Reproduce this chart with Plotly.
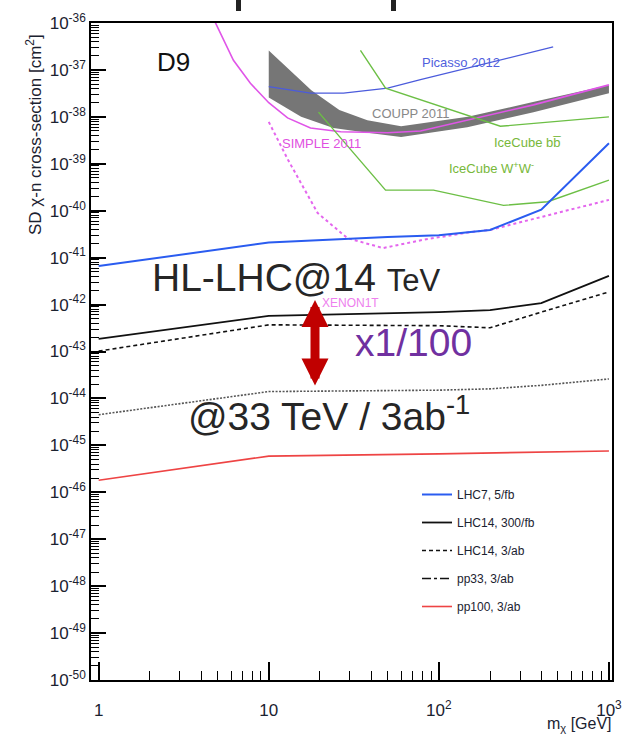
import plotly.graph_objects as go

# ---------------- data (m_chi in GeV, cross-section in cm^2) ----------------
lhc7_x = [1, 10, 50, 100, 200, 400, 1000]
lhc7_y = [6.6e-42, 2.1e-41, 2.75e-41, 3.0e-41, 3.9e-41, 1.05e-40, 2.75e-39]

lhc14_300_x = [1, 10, 100, 200, 400, 1000]
lhc14_300_y = [1.86e-43, 5.75e-43, 6.9e-43, 7.6e-43, 1.07e-42, 4.1e-42]

lhc14_3ab_x = [1, 10, 100, 200, 400, 1000]
lhc14_3ab_y = [1.02e-43, 3.7e-43, 3.55e-43, 3.2e-43, 6.9e-43, 1.86e-42]

pp33_x = [1, 10, 100, 200, 400, 1000]
pp33_y = [4.5e-45, 1.4e-44, 1.5e-44, 1.6e-44, 1.9e-44, 2.6e-44]

pp100_x = [1, 10, 100, 1000]
pp100_y = [1.8e-46, 5.9e-46, 6.6e-46, 7.6e-46]

picasso_x = [10, 17.6, 27.5, 50, 78, 148, 470]
picasso_y = [4.4e-38, 3.2e-38, 3.2e-38, 4.1e-38, 6.2e-38, 1.1e-37, 3.1e-37]

coupp_top_x = [10, 17.8, 26, 38, 60, 148, 363, 1000]
coupp_top_y = [2.6e-37, 3.7e-38, 1.4e-38, 8.5e-39, 6.3e-39, 1.0e-38, 2.1e-38, 4.8e-38]
coupp_bot_x = [10, 15.5, 24, 38, 60, 147, 360, 1000]
coupp_bot_y = [2.6e-38, 1.0e-38, 5.8e-39, 4.6e-39, 3.7e-39, 6.0e-39, 1.26e-38, 3.2e-38]

simple_x = [4.7, 6.2, 7.8, 10, 12.9, 17.6, 26.5, 50, 78, 147, 360, 1000]
simple_y = [1.3e-36, 1.6e-37, 5.2e-38, 2.0e-38, 9.5e-39, 5.8e-39, 4.8e-39, 4.6e-39,
            5.0e-39, 8.5e-39, 1.8e-38, 4.8e-38]

simple_proj_x = [10, 13, 19.4, 29, 47, 81, 153, 200, 1000]
simple_proj_y = [7.8e-39, 1.2e-39, 8.9e-41, 2.6e-41, 1.6e-41, 2.4e-41, 3.5e-41, 3.9e-41, 1.7e-40]

icecube_bb_x = [34.6, 48.6, 230, 1000]
icecube_bb_y = [2.6e-37, 4.1e-38, 6.3e-39, 1.0e-38]

icecube_ww_x = [19.6, 48.6, 93, 240, 436, 1000]
icecube_ww_y = [1.26e-38, 2.75e-40, 2.75e-40, 1.3e-40, 1.55e-40, 4.5e-40]

x_tick_vals = [1, 10, 100, 1000]
x_tick_text = ["1", "10", "10<sup>2</sup>", "10<sup>3</sup>"]
y_exponents = list(range(-50, -35))

FONT = "Liberation Sans, Arial, Helvetica, sans-serif"

fig = go.Figure()

# COUPP band
fig.add_trace(go.Scatter(
    x=coupp_top_x + coupp_bot_x[::-1], y=coupp_top_y + coupp_bot_y[::-1],
    fill="toself", fillcolor="#767676", mode="lines", line=dict(width=0),
    showlegend=False, hoverinfo="skip"))

fig.add_trace(go.Scatter(x=picasso_x, y=picasso_y, mode="lines",
                         line=dict(color="#4b5bdc", width=1.2), showlegend=False))
fig.add_trace(go.Scatter(x=simple_x, y=simple_y, mode="lines",
                         line=dict(color="#e055e8", width=1.6), showlegend=False))
fig.add_trace(go.Scatter(x=simple_proj_x, y=simple_proj_y, mode="lines",
                         line=dict(color="#e466ee", width=2, dash="dot"), showlegend=False))
fig.add_trace(go.Scatter(x=icecube_bb_x, y=icecube_bb_y, mode="lines",
                         line=dict(color="#6cbf45", width=1.4), showlegend=False))
fig.add_trace(go.Scatter(x=icecube_ww_x, y=icecube_ww_y, mode="lines",
                         line=dict(color="#6cbf45", width=1.4), showlegend=False))

# LHC projections (legend)
fig.add_trace(go.Scatter(x=lhc7_x, y=lhc7_y, mode="lines", name="LHC7, 5/fb",
                         legendgroup="a", line=dict(color="#2a5cf0", width=2)))
fig.add_trace(go.Scatter(x=lhc14_300_x, y=lhc14_300_y, mode="lines", name="LHC14, 300/fb",
                         legendgroup="b", line=dict(color="#111111", width=1.8)))
fig.add_trace(go.Scatter(x=lhc14_3ab_x, y=lhc14_3ab_y, mode="lines", name="LHC14, 3/ab",
                         legendgroup="c", line=dict(color="#111111", width=1.6, dash="4px,3px")))
fig.add_trace(go.Scatter(x=[None], y=[None], mode="lines", name="pp33, 3/ab",
                         legendgroup="d", line=dict(color="#111111", width=1.6, dash="dashdot")))
fig.add_trace(go.Scatter(x=pp33_x, y=pp33_y, mode="lines", showlegend=False,
                         legendgroup="d", line=dict(color="#555555", width=1.6, dash="2px,1.5px")))
fig.add_trace(go.Scatter(x=pp100_x, y=pp100_y, mode="lines", name="pp100, 3/ab",
                         legendgroup="e", line=dict(color="#ee4444", width=1.6)))

# ---------------- layout ----------------
W, H = 626, 735
L, R, T, B = 91, 14, 23, 55
pw, ph = W - L - R, H - T - B


def px(x):
    return (x - L) / pw


def py(y):
    return (H - B - y) / ph


x_minor = [m * 10 ** k for k in range(0, 3) for m in range(2, 10)]
y_minor = [m * 10.0 ** k for k in range(-50, -36) for m in range(2, 10)]

fig.update_xaxes(
    type="log", range=[-0.045, 3.018], showgrid=False, zeroline=False,
    showline=True, linecolor="black", linewidth=1.6, mirror=True,
    ticks="inside", ticklen=18, tickwidth=1.6, tickcolor="black",
    tickvals=x_tick_vals, ticktext=x_tick_text, ticklabelstandoff=14,
    tickfont=dict(family=FONT, size=17, color="#1b2230"),
    minor=dict(ticks="inside", ticklen=9, tickwidth=1.4, tickcolor="black",
               tickvals=x_minor, showgrid=False))
fig.update_yaxes(
    type="log", range=[-50, -36], showgrid=False, zeroline=False,
    showline=True, linecolor="black", linewidth=1.6, mirror=True,
    ticks="inside", ticklen=15, tickwidth=1.6, tickcolor="black",
    tickvals=[10.0 ** e for e in y_exponents],
    ticktext=["10<sup>%d</sup>" % e for e in y_exponents],
    tickfont=dict(family=FONT, size=17, color="#1b2230"),
    minor=dict(ticks="inside", ticklen=8, tickwidth=1.2, tickcolor="black",
               tickvals=y_minor, showgrid=False))

ann = []


def text(x, y, s, size, color, anchor="left"):
    ann.append(dict(x=px(x), y=py(y), xref="paper", yref="paper", text=s, showarrow=False,
                    xanchor=anchor, yanchor="middle",
                    font=dict(family=FONT, size=size, color=color)))


text(155, 62, "D9", 26, "#111111")
text(420, 62, "Picasso 2012", 13, "#5060dd")
text(370, 113, "COUPP 2011", 13, "#888888")
text(280, 143, "SIMPLE 2011", 13, "#e050e0")
text(492, 142, "IceCube bb\u0305", 13, "#78b83a")
text(447, 168, "IceCube W<sup>+</sup>W<sup>-</sup>", 13, "#78b83a")
text(320, 303, "XENON1T", 12, "#ee80ee")
text(150, 277, "HL-LHC@14 <span style='font-size:31px'>TeV</span>", 39, "#262626")
text(353, 342, "x1/100", 39, "#7030a0")
text(186, 413, "@33 TeV / 3ab<sup>-1</sup>", 39, "#262626")

# axis titles
ann.append(dict(x=px(34), y=py(135), xref="paper", yref="paper", textangle=-90,
                text="SD χ-n cross-section [cm<sup>2</sup>]", showarrow=False,
                xanchor="center", yanchor="middle",
                font=dict(family=FONT, size=17, color="#1b2230")))
ann.append(dict(x=px(614), y=py(724), xref="paper", yref="paper",
                text="m<sub>χ</sub> [GeV]", showarrow=False,
                xanchor="right", yanchor="middle",
                font=dict(family=FONT, size=16, color="#1b2230")))

# double arrow
ann.append(dict(x=px(315), y=py(300), xref="paper", yref="paper", ax=0, ay=87,
                axref="pixel", ayref="pixel", text="", showarrow=True,
                arrowhead=2, startarrowhead=2, arrowside="end+start",
                arrowsize=0.6, startarrowsize=0.6, arrowwidth=9,
                arrowcolor="#c00000", standoff=0, startstandoff=0))

shapes = [
    dict(type="rect", xref="paper", yref="paper", x0=px(236), x1=px(241),
         y0=py(11), y1=py(0), fillcolor="#222222", line=dict(width=0)),
    dict(type="rect", xref="paper", yref="paper", x0=px(391), x1=px(396),
         y0=py(11), y1=py(0), fillcolor="#222222", line=dict(width=0)),
]

fig.update_layout(
    width=W, height=H, margin=dict(l=L, r=R, t=T, b=B, autoexpand=False),
    paper_bgcolor="white", plot_bgcolor="white",
    annotations=ann, shapes=shapes,
    legend=dict(x=px(417), y=py(480), xanchor="left", yanchor="top",
                bgcolor="rgba(0,0,0,0)", tracegroupgap=9, itemwidth=30,
                font=dict(family=FONT, size=12, color="#1b2230")),
)

fig.write_html("out.html")
